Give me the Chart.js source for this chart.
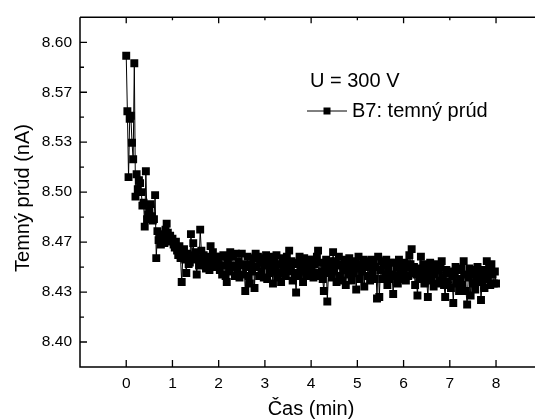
<!DOCTYPE html>
<html>
<head>
<meta charset="utf-8">
<script src="https://cdn.jsdelivr.net/npm/chart.js@4.4.1/dist/chart.umd.min.js"></script>
<style>
  body { margin: 0; background: #fff; }
  canvas { display: block; }
</style>
</head>
<body>
<canvas id="chart" width="535" height="419"></canvas>
<script>
// dark current readings (nA), one reading every 1.5 s, grouped per minute
const minute0 = [8.591, 8.554, 8.510, 8.549, 8.551, 8.533, 8.522, 8.586, 8.497, 8.512,
                 8.502, 8.508, 8.506, 8.500, 8.491, 8.493, 8.477, 8.514, 8.482, 8.485,
                 8.488, 8.492, 8.484, 8.481, 8.482, 8.498, 8.456, 8.474, 8.468, 8.472,
                 8.465, 8.471, 8.470, 8.466, 8.475, 8.479, 8.473, 8.468, 8.471, 8.467];
const minute1 = [8.469, 8.465, 8.463, 8.467, 8.461, 8.458, 8.464, 8.456, 8.440, 8.457,
                 8.462, 8.455, 8.446, 8.459, 8.452, 8.453, 8.472, 8.458, 8.466, 8.455,
                 8.460, 8.445, 8.456, 8.451, 8.475, 8.461, 8.454, 8.458, 8.455, 8.449,
                 8.457, 8.452, 8.448, 8.464, 8.455, 8.460, 8.450, 8.457, 8.453, 8.456];
const minute2 = [8.452, 8.448, 8.457, 8.445, 8.458, 8.451, 8.444, 8.440, 8.455, 8.447,
                 8.460, 8.450, 8.457, 8.451, 8.444, 8.459, 8.448, 8.454, 8.443, 8.451,
                 8.459, 8.445, 8.452, 8.434, 8.450, 8.457, 8.444, 8.439, 8.452, 8.447,
                 8.456, 8.436, 8.459, 8.450, 8.457, 8.444, 8.453, 8.447, 8.456, 8.443];
const minute3 = [8.451, 8.458, 8.442, 8.453, 8.446, 8.457, 8.449, 8.439, 8.454, 8.447,
                 8.458, 8.443, 8.452, 8.446, 8.440, 8.456, 8.449, 8.453, 8.444, 8.457,
                 8.450, 8.461, 8.447, 8.454, 8.441, 8.452, 8.446, 8.433, 8.453, 8.444,
                 8.457, 8.447, 8.452, 8.440, 8.456, 8.449, 8.444, 8.453, 8.446, 8.455];
const minute4 = [8.448, 8.455, 8.443, 8.452, 8.446, 8.457, 8.461, 8.444, 8.453, 8.447,
                 8.442, 8.434, 8.451, 8.455, 8.427, 8.446, 8.454, 8.449, 8.443, 8.460,
                 8.447, 8.454, 8.440, 8.451, 8.457, 8.444, 8.452, 8.441, 8.448, 8.455,
                 8.438, 8.451, 8.445, 8.456, 8.448, 8.441, 8.452, 8.446, 8.454, 8.435];
const minute5 = [8.449, 8.457, 8.442, 8.452, 8.447, 8.455, 8.437, 8.450, 8.454, 8.444,
                 8.451, 8.441, 8.455, 8.447, 8.453, 8.442, 8.450, 8.429, 8.457, 8.430,
                 8.448, 8.454, 8.442, 8.451, 8.445, 8.455, 8.438, 8.448, 8.442, 8.453,
                 8.445, 8.432, 8.453, 8.444, 8.450, 8.439, 8.455, 8.447, 8.451, 8.442];
const minute6 = [8.447, 8.453, 8.441, 8.450, 8.444, 8.458, 8.452, 8.462, 8.446, 8.450,
                 8.438, 8.445, 8.431, 8.449, 8.442, 8.457, 8.444, 8.452, 8.439, 8.448,
                 8.442, 8.430, 8.446, 8.453, 8.441, 8.449, 8.437, 8.445, 8.452, 8.439,
                 8.448, 8.441, 8.450, 8.454, 8.443, 8.438, 8.430, 8.448, 8.440, 8.447];
const minute7 = [8.446, 8.436, 8.444, 8.426, 8.445, 8.450, 8.439, 8.448, 8.434, 8.442,
                 8.449, 8.438, 8.454, 8.445, 8.434, 8.425, 8.443, 8.449, 8.431, 8.445,
                 8.439, 8.448, 8.435, 8.443, 8.450, 8.440, 8.446, 8.428, 8.441, 8.448,
                 8.436, 8.444, 8.454, 8.442, 8.449, 8.438, 8.452, 8.445, 8.439, 8.447,
                 8.439];

const xTicks = [0, 1, 2, 3, 4, 5, 6, 7, 8];
const yTickValues = [8.40, 8.43333, 8.46667, 8.50, 8.53333, 8.56667, 8.60];
const yTickLabels = ['8.40', '8.43', '8.47', '8.50', '8.53', '8.57', '8.60'];

const stepMin = 1.5 / 60;
const current = [].concat(minute0, minute1, minute2, minute3, minute4, minute5, minute6, minute7);
const points = current.map((v, i) => ({ x: i * stepMin, y: v }));

const FONT = '"Liberation Sans", Arial, sans-serif';
Chart.defaults.font.family = FONT;
Chart.defaults.color = '#000';

const frame = {
  id: 'frame',
  afterDraw(chart) {
    const { ctx, chartArea: a, scales: { x, y } } = chart;
    ctx.save();
    ctx.strokeStyle = '#000';
    ctx.lineWidth = 1.5;
    ctx.beginPath();
    ctx.moveTo(a.left, a.top);
    ctx.lineTo(a.left, a.bottom);
    ctx.lineTo(a.right, a.bottom);
    ctx.moveTo(a.left, a.top);
    ctx.lineTo(a.right, a.top);
    ctx.stroke();

    ctx.lineWidth = 1.3;
    ctx.beginPath();
    xTicks.forEach(t => {
      const px = x.getPixelForValue(t);
      ctx.moveTo(px, a.bottom);
      ctx.lineTo(px, a.bottom - 7);
      ctx.moveTo(px, a.top);
      ctx.lineTo(px, a.top + (t % 2 ? 3 : 6));
    });
    yTickValues.forEach((v, i) => {
      const py = y.getPixelForValue(v);
      ctx.moveTo(a.left, py);
      ctx.lineTo(a.left + 7, py);
      if (i < yTickValues.length - 1) {
        const pm = y.getPixelForValue((v + yTickValues[i + 1]) / 2);
        ctx.moveTo(a.left, pm);
        ctx.lineTo(a.left + 4, pm);
      }
    });
    ctx.stroke();

    // axis titles
    ctx.fillStyle = '#000';
    ctx.font = '20px ' + FONT;
    ctx.textAlign = 'center';
    ctx.textBaseline = 'alphabetic';
    ctx.fillText('Čas (min)', 311, 415);
    ctx.save();
    ctx.translate(28.5, 198);
    ctx.rotate(-Math.PI / 2);
    ctx.fillText('Temný prúd (nA)', 0, 0);
    ctx.restore();

    // legend
    const ds = chart.data.datasets[0];
    ctx.textAlign = 'left';
    ctx.fillText('U = 300 V', 310, 86.5);
    ctx.lineWidth = 1;
    ctx.beginPath();
    ctx.moveTo(307, 111);
    ctx.lineTo(347, 111);
    ctx.stroke();
    ctx.fillRect(323.5, 107.5, 7, 7);
    ctx.fillText(ds.label, 352, 117.3);
    ctx.restore();
  }
};

new Chart(document.getElementById('chart'), {
  type: 'line',
  data: {
    datasets: [{
      label: 'B7: temný prúd',
      data: points,
      borderColor: '#000',
      borderWidth: 1,
      backgroundColor: '#000',
      pointStyle: 'rect',
      pointRadius: 5.6,
      pointBorderWidth: 0,
      pointBackgroundColor: '#000',
      tension: 0
    }]
  },
  options: {
    responsive: false,
    animation: false,
    layout: { autoPadding: false, padding: { top: 14, right: 0, left: 0, bottom: 0 } },
    plugins: { legend: { display: false }, tooltip: { enabled: false } },
    scales: {
      x: {
        type: 'linear',
        min: -1,
        max: 8.843,
        afterBuildTicks: s => { s.ticks = xTicks.map(v => ({ value: v })); },
        afterFit: s => { s.height = 52; },
        grid: { display: false, drawTicks: false },
        border: { display: false },
        ticks: { padding: 7, font: { size: 15.5 }, color: '#000' }
      },
      y: {
        min: 8.38333,
        max: 8.61667,
        afterBuildTicks: s => { s.ticks = yTickValues.map(v => ({ value: v })); },
        afterFit: s => { s.width = 80; },
        grid: { display: false, drawTicks: false },
        border: { display: false },
        ticks: {
          padding: 8,
          font: { size: 15.5 },
          color: '#000',
          callback: (v, i) => yTickLabels[i]
        }
      }
    }
  },
  plugins: [frame]
});
</script>
</body>
</html>
